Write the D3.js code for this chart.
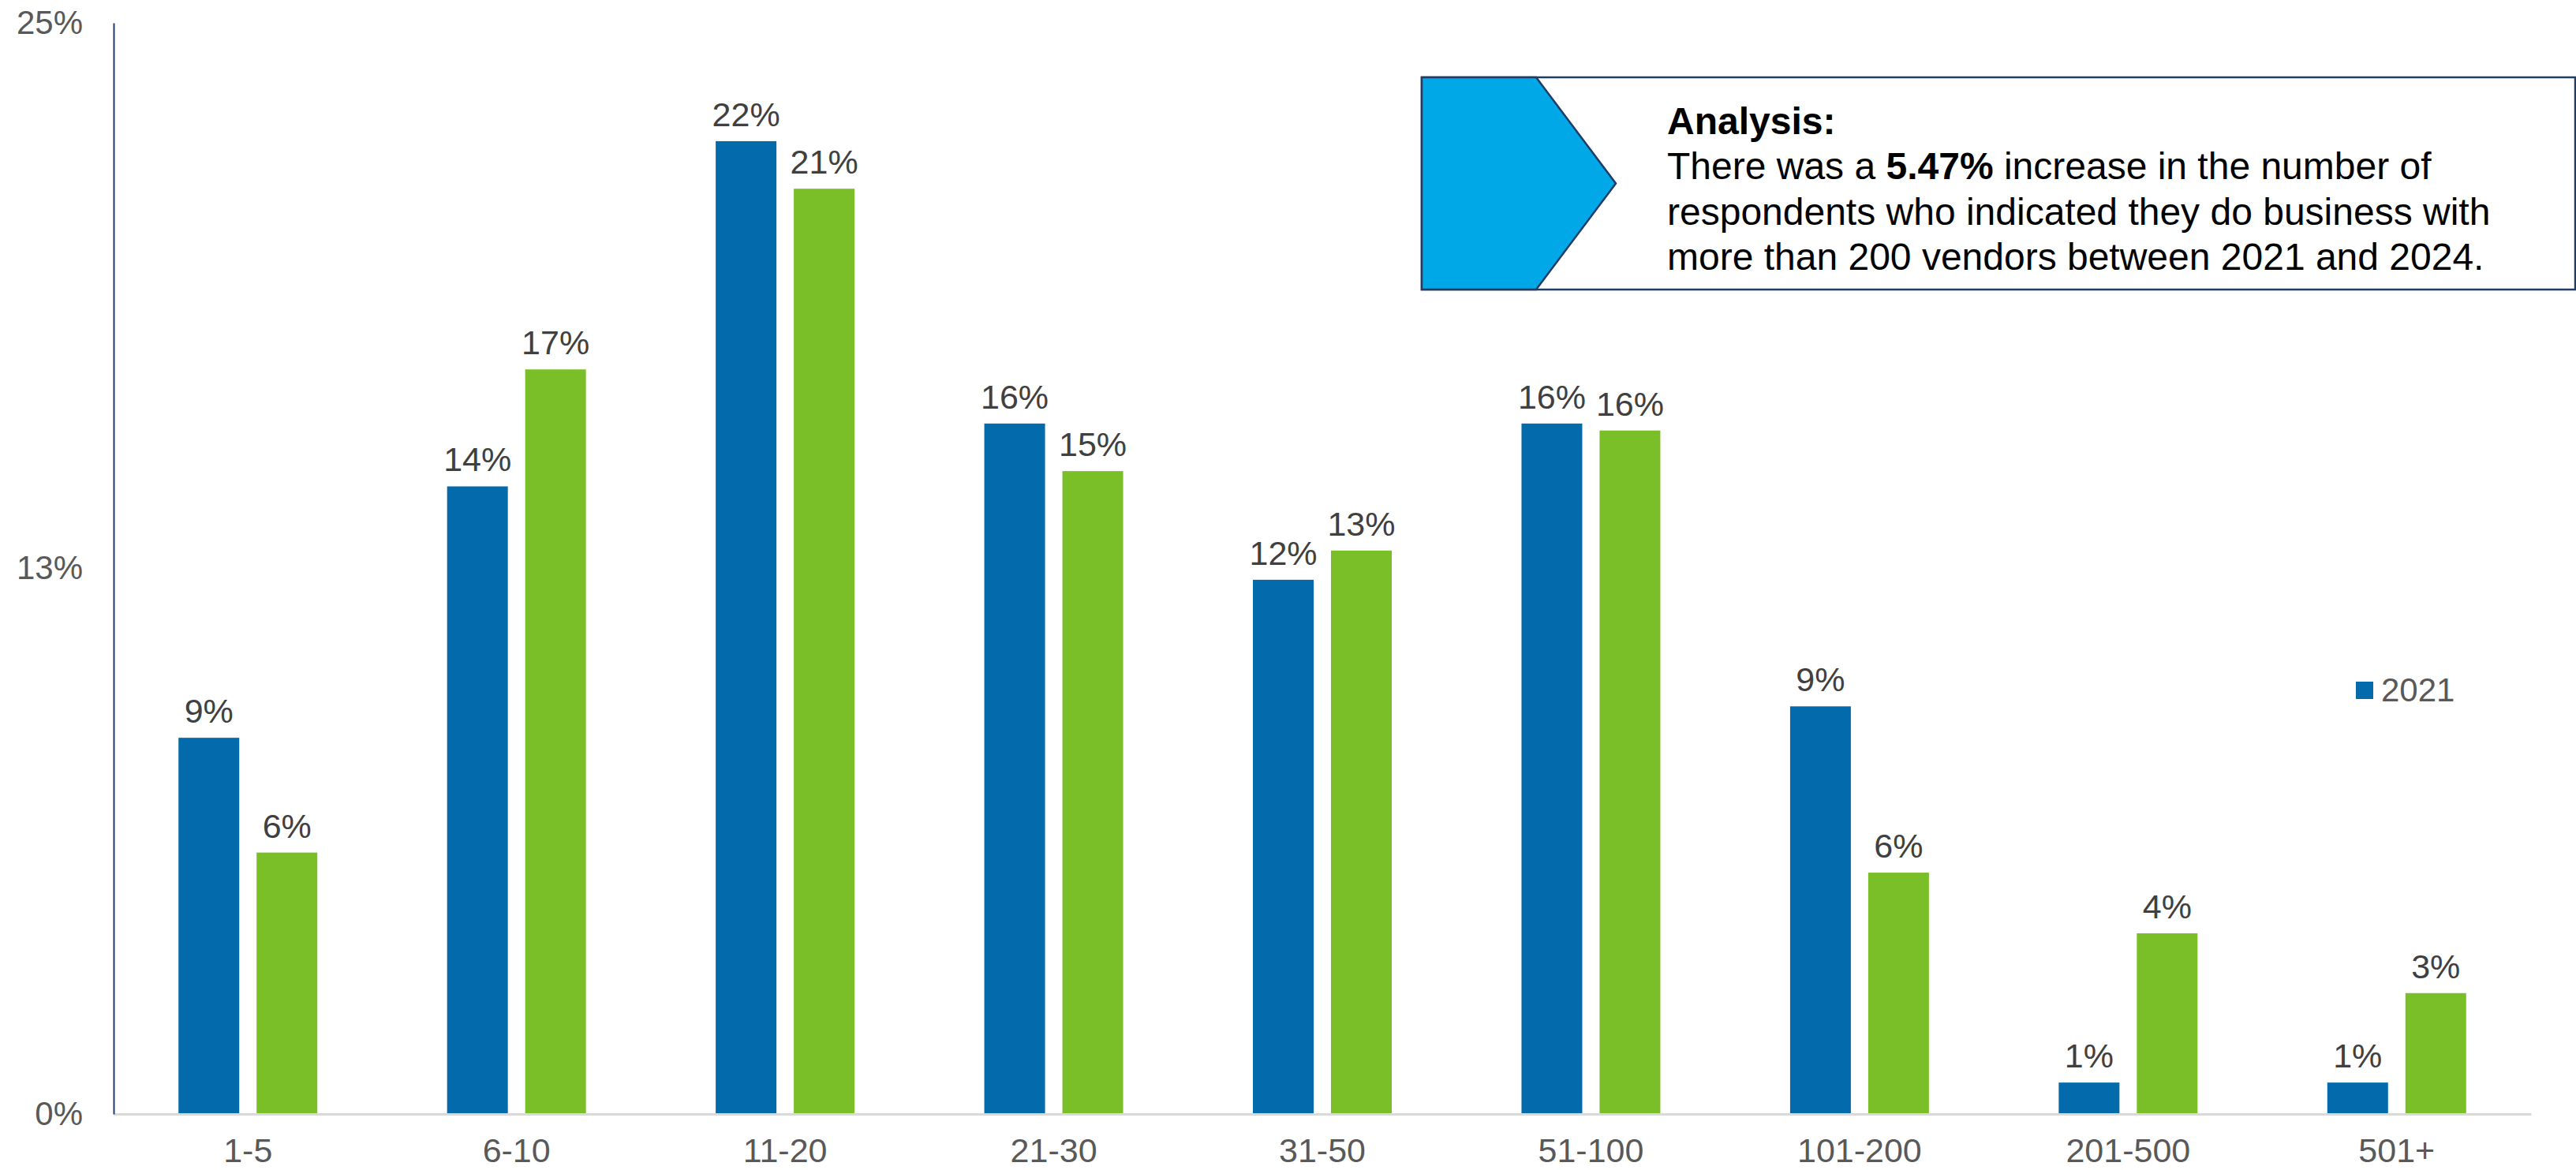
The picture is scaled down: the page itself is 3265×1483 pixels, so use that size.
<!DOCTYPE html>
<html>
<head>
<meta charset="utf-8">
<script src="https://cdn.jsdelivr.net/npm/d3@7"></script>
<style>
  html, body { margin: 0; padding: 0; background: #ffffff; }
  svg { display: block; font-family: "Liberation Sans", Arial, sans-serif; }
</style>
</head>
<body>
<svg id="chart" width="3265" height="1483"></svg>
<script>
// Number of vendors respondents do business with, share of respondents
const categories = ["1-5", "6-10", "11-20", "21-30", "31-50", "51-100", "101-200", "201-500", "501+"];
const seriesNames = ["2021", "2024"];
const values2021 = [0.0862, 0.1438, 0.2229, 0.1582, 0.1224, 0.1582, 0.0934, 0.0072, 0.0072];
const values2024 = [0.0599, 0.1706, 0.2120, 0.1473, 0.1291, 0.1566, 0.0553, 0.0414, 0.0277];
const yTicks = [0, 0.125, 0.25];
const legendItems = ["2021"];
const noteTitle = "Analysis:";
const noteLines = [
  [{t: "There was a ", b: false}, {t: "5.47%", b: true}, {t: " increase in the number of", b: false}],
  [{t: "respondents who indicated they do business with", b: false}],
  [{t: "more than 200 vendors between 2021 and 2024.", b: false}]
];

const colors = {"2021": "#036aab", "2024": "#7abf28"};
const seriesValues = {"2021": values2021, "2024": values2024};

const svg = d3.select("#chart");
const plot = {left: 144, right: 3208, top: 29, bottom: 1412};

const x = d3.scaleBand().domain(categories).range([plot.left, plot.right]).padding(0);
const xs = d3.scaleBand().domain(seriesNames).range([0, x.bandwidth()])
  .paddingInner(0.2222).paddingOuter(0.8308);
const y = d3.scaleLinear().domain([0, 0.25]).range([plot.bottom, plot.top]);
const pct = d3.format(".0%");

// Bars
const groups = svg.append("g").selectAll("g")
  .data(categories)
  .join("g")
  .attr("transform", d => `translate(${x(d)},0)`);

const barData = (c, i) => seriesNames.map(s => ({series: s, value: seriesValues[s][i]}));

groups.selectAll("rect")
  .data(barData)
  .join("rect")
  .attr("x", d => xs(d.series))
  .attr("width", xs.bandwidth())
  .attr("y", d => y(d.value))
  .attr("height", d => y(0) - y(d.value))
  .attr("fill", d => colors[d.series]);

// Value labels
groups.selectAll("text.value")
  .data(barData)
  .join("text")
  .attr("class", "value")
  .attr("x", d => xs(d.series) + xs.bandwidth() / 2)
  .attr("y", d => y(d.value) - 19)
  .attr("text-anchor", "middle")
  .attr("font-size", 43)
  .attr("fill", "#404040")
  .text(d => pct(d.value));

// Category axis
const xAxis = svg.append("g")
  .attr("transform", `translate(0,${plot.bottom})`)
  .call(d3.axisBottom(x).tickSize(0).tickSizeOuter(0).tickPadding(30));
xAxis.select(".domain").attr("stroke", "#d9d9d9").attr("stroke-width", 3);
xAxis.selectAll("text").attr("font-size", 43).attr("fill", "#595959").attr("font-family", null);

// Value axis
const yAxis = svg.append("g")
  .attr("transform", `translate(${plot.left},0)`)
  .call(d3.axisLeft(y).tickValues(yTicks).tickFormat(pct).tickSize(0).tickSizeOuter(0).tickPadding(39));
yAxis.select(".domain").attr("stroke", "#1f3d66").attr("stroke-width", 2);
yAxis.selectAll("text").attr("font-size", 42).attr("fill", "#595959").attr("font-family", null);

// Legend
const legend = svg.append("g").attr("transform", "translate(2986,864)");
legend.selectAll("rect").data(legendItems).join("rect")
  .attr("width", 22).attr("height", 22).attr("fill", d => colors[d]);
legend.selectAll("text").data(legendItems).join("text")
  .attr("x", 32).attr("y", 25)
  .attr("font-size", 42).attr("fill", "#595959")
  .text(d => d);

// Analysis call-out
const note = svg.append("g");
const box = {x0: 1802, y0: 98, x1: 3264, y1: 367};
note.append("rect")
  .attr("x", box.x0).attr("y", box.y0)
  .attr("width", box.x1 - box.x0).attr("height", box.y1 - box.y0)
  .attr("fill", "#ffffff").attr("stroke", "#1f3d66").attr("stroke-width", 2.5);
const midY = (box.y0 + box.y1) / 2;
note.append("path")
  .attr("d", d3.line()([[box.x0, box.y0], [1947, box.y0], [2048, midY], [1947, box.y1], [box.x0, box.y1]]) + "Z")
  .attr("fill", "#00a8e8").attr("stroke", "#1f3d66").attr("stroke-width", 2.5);

note.append("text")
  .attr("x", 2113).attr("y", 170)
  .attr("font-size", 48).attr("font-weight", "bold").attr("fill", "#000")
  .text(noteTitle);
const lineText = note.selectAll("text.line")
  .data(noteLines)
  .join("text")
  .attr("class", "line")
  .attr("x", 2113)
  .attr("y", (d, i) => 227 + i * 57.5)
  .attr("font-size", 48)
  .attr("fill", "#000");
lineText.selectAll("tspan")
  .data(d => d)
  .join("tspan")
  .attr("font-weight", d => d.b ? "bold" : "normal")
  .text(d => d.t);
</script>
</body>
</html>
